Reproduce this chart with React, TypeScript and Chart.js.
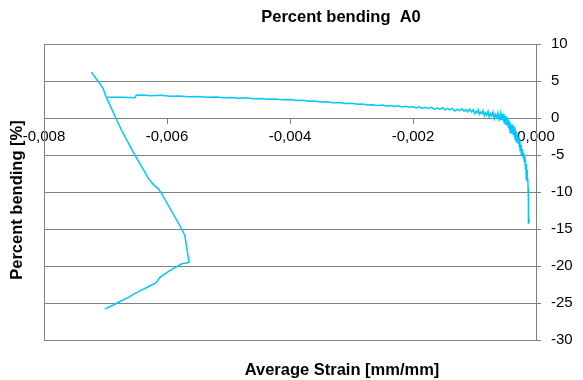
import React, { useEffect, useRef } from "react";
import { Chart, registerables } from "chart.js";

Chart.register(...registerables);

const chartTitle = "Percent bending  A0";
const xTitle = "Average Strain [mm/mm]";
const yTitle = "Percent bending [%]";

// Average strain [mm/mm]
const strain = [
  -0.00011, -0.000115, -0.000118, -0.00012, -0.000122, -0.000125, -0.000128, -0.00013, -0.000133, -0.000136,
  -0.00014, -0.000145, -0.00015, -0.000155, -0.00016, -0.000165, -0.00017, -0.000175, -0.00018, -0.00019,
  -0.0002, -0.00021, -0.00022, -0.00023, -0.00024, -0.00025, -0.00026, -0.00027, -0.00028, -0.00029,
  -0.0003, -0.00031, -0.00032, -0.00033, -0.00034, -0.00035, -0.00036, -0.00037, -0.00038, -0.00039,
  -0.0004, -0.00041, -0.00042, -0.00043, -0.00044, -0.00045, -0.00046, -0.00047, -0.00048, -0.00049,
  -0.0005, -0.00051, -0.00052, -0.00053, -0.00054, -0.00055, -0.00056, -0.00057, -0.00058, -0.0006,
  -0.00062, -0.00064, -0.00066, -0.00068, -0.0007, -0.00072, -0.00074, -0.00076, -0.00078, -0.0008,
  -0.00082, -0.00084, -0.00086, -0.00088, -0.0009, -0.00092, -0.00094, -0.00096, -0.00098, -0.001,
  -0.00102, -0.00105, -0.00108, -0.00111, -0.00114, -0.00117, -0.0012, -0.00124, -0.00128, -0.00132,
  -0.00136, -0.0014, -0.00144, -0.00148, -0.00152, -0.00156, -0.0016, -0.00165, -0.0017, -0.00175,
  -0.0018, -0.00185, -0.0019, -0.00195, -0.002, -0.00206, -0.00212, -0.00218, -0.00224, -0.0023,
  -0.00236, -0.00242, -0.0025, -0.00258, -0.00266, -0.00274, -0.00282, -0.0029, -0.003, -0.0031,
  -0.0032, -0.0033, -0.0034, -0.0035, -0.0036, -0.0037, -0.0038, -0.0039, -0.004, -0.00412,
  -0.00424, -0.00436, -0.00448, -0.0046, -0.00472, -0.00484, -0.00496, -0.00508, -0.0052, -0.00535,
  -0.0055, -0.00565, -0.0058, -0.00595, -0.0061, -0.00625, -0.0064, -0.0065, -0.00652, -0.0067,
  -0.00685, -0.00699, -0.00704, -0.00708, -0.00723, -0.00708, -0.00704, -0.00699, -0.00674, -0.00652,
  -0.0063, -0.00622, -0.00614, -0.00609, -0.00576, -0.00571, -0.00568, -0.00564, -0.00568, -0.00576,
  -0.00582, -0.00595, -0.00611, -0.00618, -0.00628, -0.0064, -0.00652, -0.00662, -0.00674, -0.00688,
  -0.00701,
];

// Percent bending [%]
const bending = [
  -13.6, -14.2, -12.0, -11.4, -13.0, -10.8, -9.5, -11.2, -8.2, -7.3,
  -8.6, -7.0, -7.8, -6.2, -8.4, -6.5, -5.6, -6.9, -5.2, -6.0,
  -4.7, -5.4, -4.2, -4.9, -3.6, -4.4, -3.0, -4.0, -2.6, -3.5,
  -2.2, -3.2, -1.8, -2.9, -1.4, -2.6, -1.1, -2.3, -0.9, -2.1,
  -0.9, -2.0, -0.6, -1.6, -0.3, -1.3, 0.0, -1.0, 0.2, -0.8,
  0.3, -0.6, 0.5, -0.4, 0.6, -0.3, 0.6, -0.2, 0.5, -0.2,
  0.7, 0.1, 0.5, -0.1, 0.8, 0.3, 0.6, 0.1, 0.9, 0.4,
  0.7, 0.3, 1.0, 0.6, 0.8, 0.5, 1.1, 0.7, 0.9, 0.6,
  1.1, 0.8, 1.2, 0.85, 1.15, 0.9, 1.25, 1.0, 1.2, 0.95,
  1.3, 1.1, 1.3, 1.1, 1.4, 1.2, 1.35, 1.2, 1.45, 1.3,
  1.45, 1.3, 1.5, 1.35, 1.55, 1.45, 1.6, 1.5, 1.65, 1.55,
  1.7, 1.6, 1.75, 1.7, 1.8, 1.75, 1.9, 1.85, 2.0, 1.95,
  2.1, 2.05, 2.2, 2.15, 2.3, 2.25, 2.4, 2.35, 2.5, 2.45,
  2.58, 2.52, 2.65, 2.6, 2.72, 2.68, 2.78, 2.74, 2.85, 2.8,
  2.92, 2.88, 2.98, 2.95, 3.06, 3.02, 3.1, 3.08, 2.75, 2.8,
  2.8, 2.85, 4.0, 4.5, 6.2, 4.5, 4.0, 2.85, -1.66, -5.05,
  -8.2, -9.0, -9.57, -10.2, -15.0, -15.9, -17.5, -19.5, -19.6, -19.7,
  -20.0, -20.6, -21.5, -22.3, -22.7, -23.2, -23.7, -24.2, -24.7, -25.3,
  -25.8,
];

const xMin = -0.008;
const xMax = 0;
const xStep = 0.002;
const yMin = -30;
const yMax = 10;
const yStep = 5;

const FONT = "'Liberation Sans', Arial, sans-serif";
const GRID = "#808080";
const LINE = "#00C8FF";

export default function App() {
  const ref = useRef<HTMLCanvasElement | null>(null);

  useEffect(() => {
    if (!ref.current) return;
    const points = strain.map((s, i) => ({ x: s, y: bending[i] }));

    const textPlugin = {
      id: "texts",
      afterDraw(chart: any) {
        const { ctx, chartArea } = chart;
        ctx.save();
        ctx.strokeStyle = GRID;
        ctx.lineWidth = 1;
        ctx.beginPath();
        ctx.moveTo(Math.round(chartArea.left) + 0.5, Math.round(chartArea.top) + 0.5);
        ctx.lineTo(Math.round(chartArea.left) + 0.5, Math.round(chartArea.bottom) + 0.5);
        ctx.stroke();
        ctx.fillStyle = "#000";
        ctx.font = `bold 16.5px ${FONT}`;
        ctx.textAlign = "center";
        ctx.textBaseline = "middle";
        ctx.fillText(chartTitle, 341, 17);
        ctx.fillText(xTitle, 342, 370);
        ctx.translate(17, 200);
        ctx.rotate(-Math.PI / 2);
        ctx.fillText(yTitle, 0, 0);
        ctx.restore();
      },
    };

    const chart = new Chart(ref.current, {
      type: "scatter",
      data: {
        datasets: [
          {
            data: points,
            showLine: true,
            borderColor: LINE,
            backgroundColor: LINE,
            borderWidth: 1.5,
            pointRadius: 0,
            tension: 0,
          },
        ],
      },
      options: {
        responsive: false,
        animation: false,
        layout: { padding: { left: 44, top: 44, bottom: 40, right: 0 } },
        plugins: { legend: { display: false }, tooltip: { enabled: false }, title: { display: false } },
        scales: {
          x: {
            type: "linear",
            position: { y: 0 },
            min: xMin,
            max: xMax,
            ticks: {
              stepSize: xStep,
              color: "#000",
              font: { family: FONT, size: 15 },
              padding: 5,
              maxRotation: 0,
              callback: (v: any) => {
                const n = Math.abs(Number(v)) < 1e-12 ? 0 : Number(v);
                return n.toFixed(3).replace(".", ",");
              },
            },
            grid: { drawOnChartArea: false, drawTicks: true, tickLength: 5, color: GRID },
            border: { display: true, color: GRID },
          },
          y: {
            type: "linear",
            position: "right",
            min: yMin,
            max: yMax,
            afterFit: (axis: any) => {
              axis.width = 47;
            },
            ticks: {
              stepSize: yStep,
              color: "#000",
              font: { family: FONT, size: 15 },
              padding: 10,
            },
            grid: { color: GRID, tickLength: 5, drawTicks: true },
            border: { display: true, color: GRID },
          },
        },
      },
      plugins: [textPlugin],
    } as any);
    return () => chart.destroy();
  }, []);

  return (
    <div style={{ position: "fixed", left: 0, top: 0, width: 583, height: 380, background: "#fff" }}>
      <canvas ref={ref} width={583} height={380} style={{ display: "block" }} />
    </div>
  );
}
